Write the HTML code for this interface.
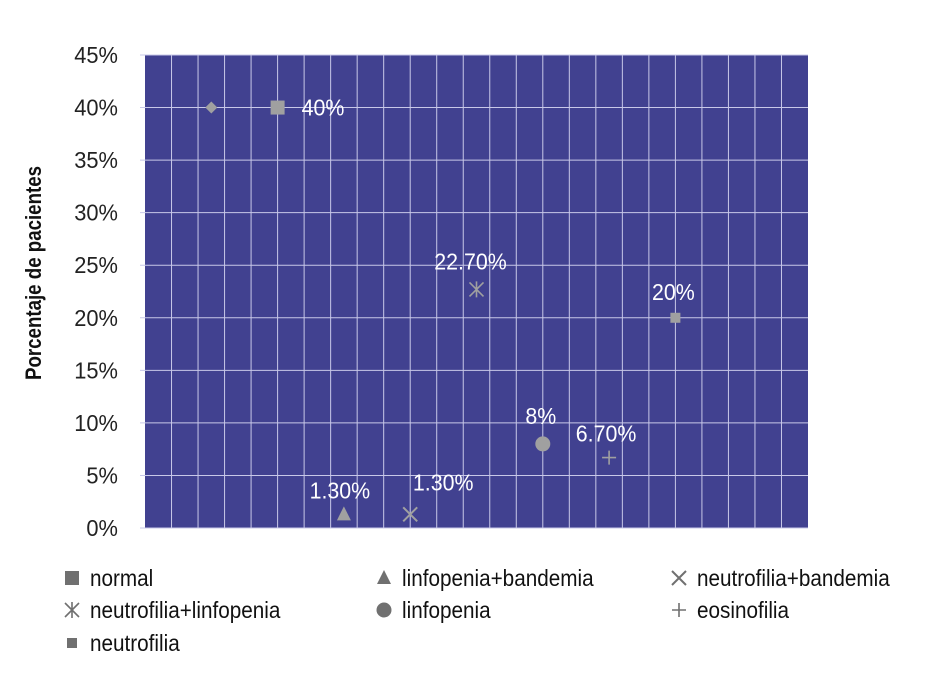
<!DOCTYPE html>
<html><head><meta charset="utf-8"><style>
body{margin:0;background:#fff;width:937px;height:695px;overflow:hidden}
text{font-family:"Liberation Sans",sans-serif}
</style></head><body>
<svg id="chart" width="937" height="695" xmlns="http://www.w3.org/2000/svg"></svg>
<script>
const categories=["normal2","normal","linfopenia+bandemia","neutrofilia+bandemia","neutrofilia+linfopenia","linfopenia","eosinofilia","neutrofilia"];
const values=[40,40,1.3,1.3,22.7,8,6.7,20];
const labels=["","40%","1.30%","1.30%","22.70%","8%","6.70%","20%"];
const markers=["diamond","square","triangle","x","star","circle","plus","smallsquare"];
const yTicks=[0,5,10,15,20,25,30,35,40,45];
const legendNames=["normal","linfopenia+bandemia","neutrofilia+bandemia","neutrofilia+linfopenia","linfopenia","eosinofilia","neutrofilia"];
const legendMarkers=["square","triangle","x","star","circle","plus","smallsquare"];

const NS="http://www.w3.org/2000/svg";
const svg=document.getElementById('chart');
const L=145,R=808,T=55,B=528;
const xs=i=>L+(R-L)/10*(i+1);
const ys=v=>B-(B-T)*v/45;
function mk(tag,at,parent){const e=document.createElementNS(NS,tag);for(const k in at)e.setAttribute(k,at[k]);(parent||svg).appendChild(e);return e;}
const bg=mk('rect',{x:L,y:T,width:R-L,height:B-T,fill:'#414190'});


for(let i=1;i<25;i++){const x=L+(R-L)/25*i;mk('line',{x1:x,x2:x,y1:T,y2:B,stroke:'#c8c8e8','stroke-width':1});}
yTicks.forEach(v=>{
 const y=ys(v);
 mk('line',{x1:L-5,x2:R,y1:y,y2:y,stroke:'#c8c8e8','stroke-width':1});
 const t=mk('text',{x:118,y:y+8,'text-anchor':'end','font-size':23,fill:'#222',transform:`translate(118 0) scale(0.95 1) translate(-118 0)`});
 t.textContent=v+'%';
 
 
});
const yt=mk('text',{x:0,y:0,'font-size':22,'font-weight':'bold',fill:'#111','text-anchor':'middle',transform:'translate(41 273) rotate(-90) scale(0.85 1)'});
yt.textContent='Porcentaje de pacientes';


function marker(type,x,y,g,c){
 c=c||'#a0a0a0';
 if(type==='diamond')mk('path',{d:`M${x} ${y-6}L${x+6} ${y}L${x} ${y+6}L${x-6} ${y}Z`,fill:c},g);
 else if(type==='square')mk('rect',{x:x-7,y:y-7,width:14,height:14,fill:c},g);
 else if(type==='smallsquare')mk('rect',{x:x-5,y:y-5,width:10,height:10,fill:c},g);
 else if(type==='triangle')mk('path',{d:`M${x} ${y-8}L${x+7} ${y+6}L${x-7} ${y+6}Z`,fill:c},g);
 else if(type==='circle')mk('circle',{cx:x,cy:y,r:7.5,fill:c},g);
 else if(type==='x')mk('path',{d:`M${x-7} ${y-7}L${x+7} ${y+7}M${x+7} ${y-7}L${x-7} ${y+7}`,stroke:c,'stroke-width':2},g);
 else if(type==='plus')mk('path',{d:`M${x-7} ${y}L${x+7} ${y}M${x} ${y-7}L${x} ${y+7}`,stroke:c,'stroke-width':1.6},g);
 else if(type==='star')mk('path',{d:`M${x-7} ${y-7}L${x+7} ${y+7}M${x+7} ${y-7}L${x-7} ${y+7}M${x} ${y-8}L${x} ${y+8}`,stroke:c,'stroke-width':1.6},g);
}
const dx=[0,0,-4,33,-6,-2,-3,-2];
const dy=[0,0,-16,-24,-20,-20,-16,-18];
values.forEach((v,i)=>{
 const g=mk('g',{});
 
 
 const x=xs(i),y=ys(v);
 marker(markers[i],x,y,g);
 if(labels[i]){
  let lx=x+dx[i],ly=y+dy[i],anchor='middle';
  if(i===1){lx=x+24;ly=y+8;anchor='start';}
  const t=mk('text',{x:lx,y:ly,'font-size':23,fill:'#fff','text-anchor':anchor,transform:`translate(${lx} 0) scale(0.93 1) translate(${-lx} 0)`},g);
  t.textContent=labels[i];
 }
});
const lpos=[[72,578],[384,578],[679,578],[72,610],[384,610],[679,610],[72,643]];
legendNames.forEach((n,i)=>{
 const g=mk('g',{});
 
 
 const [x,y]=lpos[i];
 marker(legendMarkers[i],x,y,g,'#707070');
 const tx=x+18;
 const t=mk('text',{x:tx,y:y+8,'font-size':23,fill:'#111',transform:`translate(${tx} 0) scale(0.9 1) translate(${-tx} 0)`},g);
 t.textContent=n;
});
</script>
</body></html>
